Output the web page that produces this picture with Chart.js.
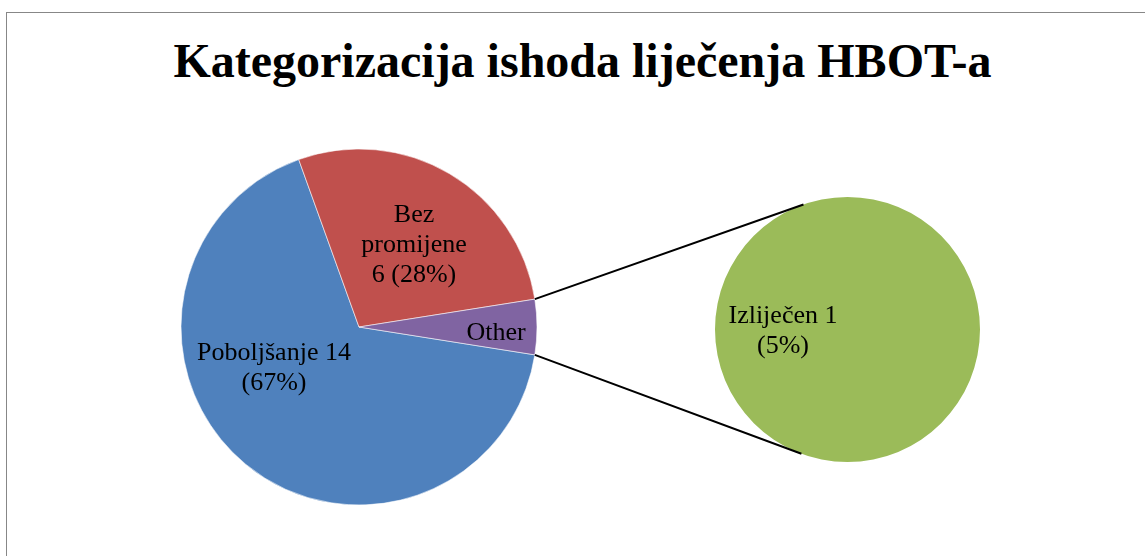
<!DOCTYPE html>
<html><head><meta charset="utf-8">
<script src="https://cdn.jsdelivr.net/npm/chart.js@4.4.0/dist/chart.umd.min.js"></script>
<style>
html,body{margin:0;padding:0;background:#fff;overflow:hidden;width:1145px;height:556px;}
#frame{position:absolute;left:6px;top:12px;width:1300px;height:700px;border:1px solid #878787;box-sizing:border-box;}
#title{position:absolute;left:20px;top:37px;width:1125px;text-align:center;font:bold 48px/48px "Liberation Serif","Times New Roman",serif;color:#000;white-space:nowrap;}
canvas{position:absolute;left:0;top:0;}
</style></head><body>
<div id="frame"></div>
<div id="title">Kategorizacija ishoda liječenja HBOT-a</div>
<canvas id="main" width="1145" height="556"></canvas>
<canvas id="sec" width="1145" height="556"></canvas>
<script>
// ---- data ----
const mainCategories = ['Poboljšanje', 'Bez promijene', 'Other'];
const mainCounts = [14, 6, null];
const mainPercents = [67, 28, 5];
const secCategories = ['Izliječen'];
const secCounts = [1];
const secPercents = [5];
const mainColors = ['#4F81BD', '#C0504D', '#8064A2'];
const secColors = ['#9BBB59'];

function labelText(cat, count, pct) {
  return count == null ? cat : cat + ' ' + count + ' (' + pct + '%)';
}
function wrap(ctx, text, maxW) {
  const words = text.split(' ');
  const lines = [];
  let cur = '';
  words.forEach(w => {
    const t = cur ? cur + ' ' + w : w;
    if (cur && ctx.measureText(t).width > maxW) { lines.push(cur); cur = w; }
    else cur = t;
  });
  if (cur) lines.push(cur);
  return lines;
}

const sliceLabels = {
  id: 'sliceLabels',
  afterDatasetsDraw(chart, args, opts) {
    const ctx = chart.ctx;
    const meta = chart.getDatasetMeta(0);
    ctx.save();
    ctx.font = opts.labelFont;
    ctx.fillStyle = opts.color;
    ctx.textAlign = 'center';
    ctx.textBaseline = 'alphabetic';
    meta.data.forEach((arc, i) => {
      const p = arc.getProps(['x', 'y', 'outerRadius'], true);
      const a = opts.anchors[i];
      const cx = p.x + a[0] * p.outerRadius, cy = p.y + a[1] * p.outerRadius;
      const lines = wrap(ctx, opts.texts[i], opts.widths[i]);
      const n = lines.length;
      lines.forEach((ln, k) => {
        ctx.fillText(ln, cx, cy + opts.baselineShift + (k - (n - 1) / 2) * opts.lineHeight);
      });
    });
    ctx.restore();
  }
};

const FONT = '26px "Liberation Serif", "Times New Roman", serif';
const mainTotal = mainPercents.reduce((s, v) => s + v, 0);
const otherIdx = mainCategories.length - 1;

const mainChart = new Chart(document.getElementById('main'), {
  type: 'pie',
  data: {
    labels: mainCategories,
    datasets: [{
      data: mainPercents,
      backgroundColor: mainColors,
      borderColor: 'rgba(255,255,255,0.55)',
      borderWidth: 1
    }]
  },
  options: {
    responsive: false,
    animation: false,
    events: [],
    rotation: 90 + (mainPercents[otherIdx] / mainTotal * 360) / 2,
    radius: 178,
    layout: { padding: { left: 181, right: 608, top: 149, bottom: 51 } },
    plugins: {
      legend: { display: false },
      tooltip: { enabled: false },
      title: { display: false },
      sliceLabels: {
        labelFont: FONT, color: '#000', lineHeight: 30, baselineShift: 9,
        texts: mainCategories.map((c, i) => labelText(c, mainCounts[i], mainPercents[i])),
        widths: [170, 115, 200],
        anchors: [[-0.4775, 0.219], [0.309, -0.472], [0.770, 0.022]]
      }
    }
  },
  plugins: [sliceLabels]
});

const connectors = {
  id: 'connectors',
  afterDraw(chart) {
    const ctx = chart.ctx;
    const o = mainChart.getDatasetMeta(0).data[otherIdx].getProps(['x', 'y', 'outerRadius', 'startAngle', 'endAngle'], true);
    const c = chart.getDatasetMeta(0).data[0].getProps(['x', 'y', 'outerRadius'], true);
    const P1 = [o.x + o.outerRadius * Math.cos(o.startAngle), o.y + o.outerRadius * Math.sin(o.startAngle)];
    const P2 = [o.x + o.outerRadius * Math.cos(o.endAngle), o.y + o.outerRadius * Math.sin(o.endAngle)];
    function tangent(P, sign) {
      const dx = P[0] - c.x, dy = P[1] - c.y;
      const d = Math.hypot(dx, dy);
      const b = Math.atan2(dy, dx);
      const al = Math.acos(c.outerRadius / d);
      const ang = b + sign * al;
      return [c.x + c.outerRadius * Math.cos(ang), c.y + c.outerRadius * Math.sin(ang)];
    }
    const T1 = tangent(P1, 1), T2 = tangent(P2, -1);
    ctx.save();
    ctx.strokeStyle = '#000';
    ctx.lineWidth = 2;
    ctx.beginPath();
    ctx.moveTo(P1[0], P1[1]); ctx.lineTo(T1[0], T1[1]);
    ctx.moveTo(P2[0], P2[1]); ctx.lineTo(T2[0], T2[1]);
    ctx.stroke();
    ctx.restore();
  }
};

const secChart = new Chart(document.getElementById('sec'), {
  type: 'pie',
  data: {
    labels: secCategories,
    datasets: [{
      data: secPercents,
      backgroundColor: secColors,
      borderWidth: 0
    }]
  },
  options: {
    responsive: false,
    animation: false,
    events: [],
    radius: 132.5,
    layout: { padding: { left: 715, right: 165, top: 197, bottom: 94 } },
    plugins: {
      legend: { display: false },
      tooltip: { enabled: false },
      title: { display: false },
      sliceLabels: {
        labelFont: FONT, color: '#000', lineHeight: 30, baselineShift: 9,
        texts: secCategories.map((c, i) => labelText(c, secCounts[i], secPercents[i])),
        widths: [125],
        anchors: [[-0.487, -0.004]]
      }
    }
  },
  plugins: [sliceLabels, connectors]
});
</script>
</body></html>
